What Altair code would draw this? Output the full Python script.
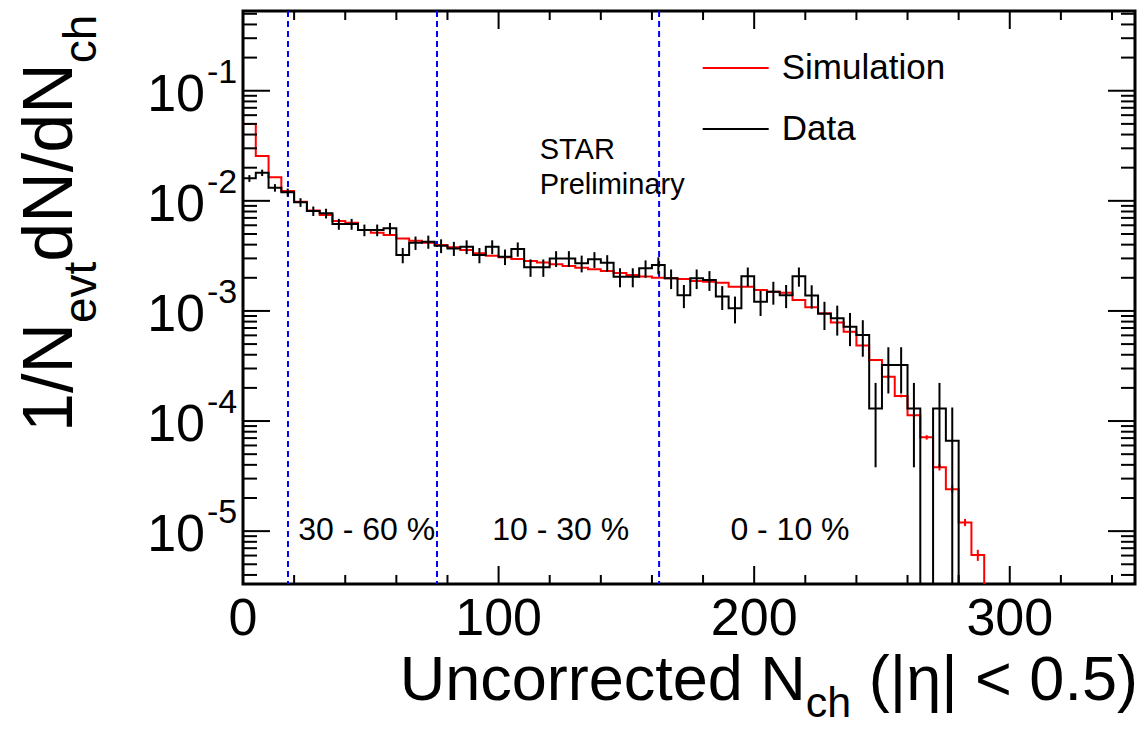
import altair as alt
import pandas as pd

BIN_WIDTH = 5

# Data histogram (black), 5-unit bins starting at 0; 0 = empty bin
data_vals = [0.0160, 0.0180, 0.01315, 0.01195, 0.00969, 0.00808, 0.00770, 0.00616, 0.00616, 0.00543,
             0.00543, 0.00563, 0.00322, 0.00416, 0.00425, 0.00391, 0.00370, 0.00383, 0.00322, 0.00383,
             0.00311, 0.00365, 0.00249, 0.00249, 0.00300, 0.00300, 0.00271, 0.00294, 0.00274, 0.00204,
             0.00204, 0.00244, 0.00261, 0.00198, 0.00139, 0.00198, 0.00191, 0.00135, 0.00106, 0.00207,
             0.00121, 0.00149, 0.00139, 0.00207, 0.00138, 0.000941, 0.000857, 0.000719, 0.000604, 0.000130,
             0.000323, 0.000323, 0.000130, 0.0, 0.000130, 0.0000662]
data_errs = [0.00113, 0.00120, 0.00103, 0.00098, 0.00088, 0.00080, 0.00078, 0.00070, 0.00070, 0.00066,
             0.00066, 0.00067, 0.00051, 0.00058, 0.00058, 0.00056, 0.00054, 0.00055, 0.00051, 0.00055,
             0.00050, 0.00054, 0.00045, 0.00045, 0.00049, 0.00049, 0.00047, 0.00048, 0.00047, 0.00040,
             0.00040, 0.00044, 0.00046, 0.00040, 0.00033, 0.00040, 0.00039, 0.00033, 0.00029, 0.00041,
             0.00031, 0.00035, 0.00033, 0.00041, 0.00033, 0.00027, 0.00026, 0.00024, 0.00022, 0.000092,
             0.000145, 0.000145, 0.000092, 0.0, 0.000092, 0.0000662]

# Simulation histogram (red)
sim_vals = [0.0498, 0.02552, 0.01635, 0.01227, 0.00981, 0.00816, 0.00743, 0.00655, 0.00633, 0.00543,
            0.00513, 0.00489, 0.00456, 0.00434, 0.00416, 0.00397, 0.00378, 0.00357, 0.00334, 0.00317,
            0.00307, 0.00296, 0.00284, 0.00276, 0.00265, 0.00256, 0.00247, 0.00239, 0.00230, 0.00221,
            0.00212, 0.00205, 0.00200, 0.00198, 0.00195, 0.00187, 0.00184, 0.00180, 0.00166, 0.00166,
            0.00155, 0.00149, 0.00146, 0.00126, 0.00108, 0.000951, 0.000785, 0.000647, 0.000485, 0.000358,
            0.000253, 0.000169, 0.000113, 0.0000711, 0.0000380, 0.0000240, 0.0000120, 0.00000607]
sim_errs = [0.0] * 49 + [0.000008, 0.000007, 0.000005, 0.000004, 0.0000033, 0.0000025, 0.0000018,
                         0.0000009, 0.0000007]

cut_values = [17.6, 75.9, 162.8]
region_text = ["30 - 60 %", "10 - 30 %", "0 - 10 %"]
region_x = [48.4, 124.3, 214.0]
x_tick_labels = [0, 100, 200, 300]
x_minor_ticks = [20, 40, 60, 80, 120, 140, 160, 180, 220, 240, 260, 280, 320, 340]
y_decades = [1e-1, 1e-2, 1e-3, 1e-4, 1e-5]
y_exponents = ["-1", "-2", "-3", "-4", "-5"]
legend_labels = ["Simulation", "Data"]
legend_colors = ["#ff0000", "#000000"]

X_MIN, X_MAX = 0, 349
Y_MIN, Y_MAX = 3.31e-6, 0.53
W, H = 892, 573
FLOOR = 1e-8
FONT = "Liberation Sans"

xs = alt.Scale(domain=[X_MIN, X_MAX], nice=False, zero=False)
ys = alt.Scale(type="log", domain=[Y_MIN, Y_MAX], nice=False)


def step_frame(vals):
    xv = [BIN_WIDTH * i for i in range(len(vals) + 1)]
    yv = [v if v > 0 else FLOOR for v in vals] + [FLOOR]
    return pd.DataFrame({"x": xv, "y": yv})


def err_frame(vals, errs):
    rows = []
    for i, (v, e) in enumerate(zip(vals, errs)):
        if v > 0 and e > 0:
            rows.append({"x": BIN_WIDTH * (i + 0.5), "lo": max(v - e, FLOOR), "hi": v + e})
    return pd.DataFrame(rows)


X = lambda f: alt.X(f, scale=xs, axis=None)
Y = lambda f: alt.Y(f, scale=ys, axis=None)

layers = []

# dashed centrality boundaries
layers.append(alt.Chart(pd.DataFrame({"x": cut_values})).mark_rule(
    color="#0000ff", strokeWidth=2, strokeDash=[6, 4]).encode(
    x=X("x:Q"), y=alt.value(0), y2=alt.value(H)))

# simulation
layers.append(alt.Chart(step_frame(sim_vals)).mark_line(
    interpolate="step-after", color="#ff0000", strokeWidth=2, clip=True).encode(
    x=X("x:Q"), y=Y("y:Q")))
layers.append(alt.Chart(err_frame(sim_vals, sim_errs)).mark_rule(
    color="#ff0000", strokeWidth=2, clip=True).encode(
    x=X("x:Q"), y=Y("lo:Q"), y2="hi:Q"))

# data
layers.append(alt.Chart(step_frame(data_vals)).mark_line(
    interpolate="step-after", color="#000000", strokeWidth=2, clip=True).encode(
    x=X("x:Q"), y=Y("y:Q")))
layers.append(alt.Chart(err_frame(data_vals, data_errs)).mark_rule(
    color="#000000", strokeWidth=2, clip=True).encode(
    x=X("x:Q"), y=Y("lo:Q"), y2="hi:Q"))

# y ticks (left and right), log minor ticks
y_minor = [m * 10.0 ** k for k in range(-6, 0) for m in range(2, 10) if Y_MIN <= m * 10.0 ** k <= Y_MAX]
for vals, ln in [(y_decades, 27), (y_minor, 14)]:
    df = pd.DataFrame({"v": vals})
    layers.append(alt.Chart(df).mark_rule(color="black", strokeWidth=2).encode(
        y=Y("v:Q"), x=alt.value(0), x2=alt.value(ln)))
    layers.append(alt.Chart(df).mark_rule(color="black", strokeWidth=2).encode(
        y=Y("v:Q"), x=alt.value(W - ln), x2=alt.value(W)))

# x ticks (bottom and top)
for vals, ln in [(x_tick_labels, 18), (x_minor_ticks, 9)]:
    df = pd.DataFrame({"x": vals})
    layers.append(alt.Chart(df).mark_rule(color="black", strokeWidth=2).encode(
        x=X("x:Q"), y=alt.value(H - ln), y2=alt.value(H)))
    layers.append(alt.Chart(df).mark_rule(color="black", strokeWidth=2).encode(
        x=X("x:Q"), y=alt.value(0), y2=alt.value(ln)))

# x tick labels
layers.append(alt.Chart(pd.DataFrame({"x": x_tick_labels, "t": [str(v) for v in x_tick_labels]})).mark_text(
    font=FONT, fontSize=52, align="center", baseline="middle").encode(
    x=X("x:Q"), y=alt.value(608), text="t:N"))

# y tick labels 10^k
ydf = pd.DataFrame({"v": y_decades, "b": ["10"] * len(y_decades), "e": y_exponents})
layers.append(alt.Chart(ydf).mark_text(font=FONT, fontSize=52, align="right", baseline="middle", dy=4).encode(
    y=Y("v:Q"), x=alt.value(-38), text="b:N"))
layers.append(alt.Chart(ydf).mark_text(font=FONT, fontSize=34, align="left", baseline="middle", dy=-18).encode(
    y=Y("v:Q"), x=alt.value(-36), text="e:N"))

# region labels
layers.append(alt.Chart(pd.DataFrame({"x": region_x, "t": region_text})).mark_text(
    font=FONT, fontSize=32, align="center", baseline="middle").encode(
    x=X("x:Q"), y=alt.value(519), text="t:N"))

one = pd.DataFrame({"d": [0]})


def txt(s, x, y, size, angle=0, align="left", baseline="alphabetic"):
    kw = dict(font=FONT, fontSize=size, align=align, baseline=baseline, text=s)
    if angle:
        kw["angle"] = angle
    return alt.Chart(one).mark_text(**kw).encode(x=alt.value(x), y=alt.value(y))


# STAR Preliminary
layers.append(txt("STAR", 296.7, 139, 29, baseline="middle"))
layers.append(txt("Preliminary", 296.7, 174, 29, baseline="middle"))

# legend
for lab, col, yy in zip(legend_labels, legend_colors, [57, 118]):
    layers.append(alt.Chart(one).mark_rule(color=col, strokeWidth=2).encode(
        x=alt.value(459.7), x2=alt.value(525.7), y=alt.value(yy)))
    layers.append(txt(lab, 538.7, yy, 35, baseline="middle"))

# x title with subscript
XT0 = 400 - 243.3
layers.append(txt("Uncorrected N", XT0, 689, 63))
layers.append(txt("ch", XT0 + 6.446 * 63, 706, 43))
layers.append(txt("(|η| < 0.5)", XT0 + 6.446 * 63 + 45.5 + 17.5, 689, 63))

# y title with subscripts (rotated)
layers.append(txt("1/N", -171.3, 421, 70, angle=270))
layers.append(txt("evt", -147.3, 312.1, 46, angle=270))
layers.append(txt("dN/dN", -171.3, 250.7, 70, angle=270))
layers.append(txt("ch", -147.3, 52.3, 46, angle=270))

chart = alt.layer(*layers).properties(
    width=W, height=H,
    autosize=alt.AutoSizeParams(type="none"),
    padding={"left": 243, "top": 11, "right": 5, "bottom": 153},
    background="white",
).configure_view(stroke="black", strokeWidth=3)

chart.save("out.html", embed_options={"renderer": "svg", "actions": False})
